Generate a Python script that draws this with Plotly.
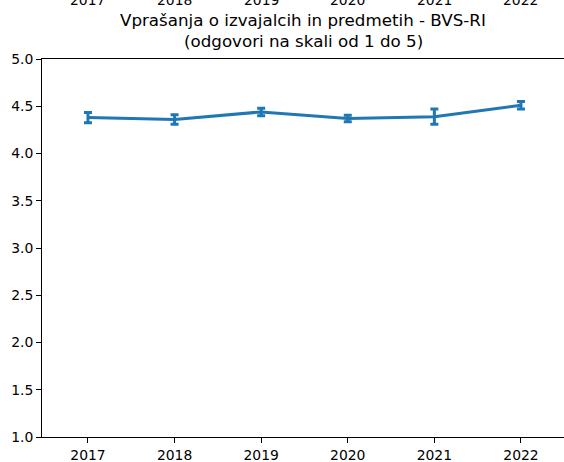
import plotly.graph_objects as go

years = [2017, 2018, 2019, 2020, 2021, 2022]
means = [4.38, 4.36, 4.44, 4.37, 4.39, 4.51]
errors = [0.055, 0.05, 0.04, 0.035, 0.08, 0.04]
y_ticks = [1.0, 1.5, 2.0, 2.5, 3.0, 3.5, 4.0, 4.5, 5.0]
title_line1 = "Vprašanja o izvajalcih in predmetih - BVS-RI"
title_line2 = "(odgovori na skali od 1 do 5)"

W, H = 564, 462
L, R, T, B = 42, 0, 59, 25
plot_h = H - T - B

def paper_y(py):
    return (H - B - py) / plot_h

blue = "#1f77b4"
font = "DejaVu Sans"
tick_fs = 13.9
title_fs = 16.7

fig = go.Figure()
fig.add_trace(go.Scatter(
    x=years, y=means, mode="lines",
    line=dict(color=blue, width=3),
    error_y=dict(type="data", array=errors, visible=True,
                 color=blue, thickness=3, width=4),
    showlegend=False, hoverinfo="skip",
))

annotations = [
    dict(text=title_line1, x=0.5, xref="paper", y=paper_y(20), yref="paper",
         showarrow=False, xanchor="center", yanchor="middle",
         font=dict(family=font, size=title_fs, color="black")),
    dict(text=title_line2, x=0.5, xref="paper", y=paper_y(41), yref="paper",
         showarrow=False, xanchor="center", yanchor="middle",
         font=dict(family=font, size=title_fs, color="black")),
]
for yr in years:
    annotations.append(dict(text=str(yr), x=yr, xref="x", y=paper_y(-0.3), yref="paper",
                            showarrow=False, xanchor="center", yanchor="middle",
                            font=dict(family=font, size=tick_fs, color="black")))

fig.update_layout(
    width=W, height=H,
    margin=dict(l=L, r=R, t=T, b=B),
    paper_bgcolor="white", plot_bgcolor="white",
    font=dict(family=font, size=tick_fs, color="black"),
    annotations=annotations,
    xaxis=dict(
        range=[2016.469, 2022.497],
        tickvals=years, ticktext=[str(y) for y in years],
        showgrid=False, zeroline=False,
        showline=True, linecolor="black", linewidth=1, mirror=True,
        ticks="outside", ticklen=5, tickcolor="black", tickwidth=1,
    ),
    yaxis=dict(
        range=[1.0, 5.0],
        tickvals=y_ticks, ticktext=[f"{v:.1f}" for v in y_ticks],
        showgrid=False, zeroline=False,
        showline=True, linecolor="black", linewidth=1,
        ticks="outside", ticklen=5, tickcolor="black", tickwidth=1,
    ),
)

fig.write_html("out.html",
               config={"displayModeBar": False},
               post_script="document.body.style.margin='0';document.body.style.padding='0';")
